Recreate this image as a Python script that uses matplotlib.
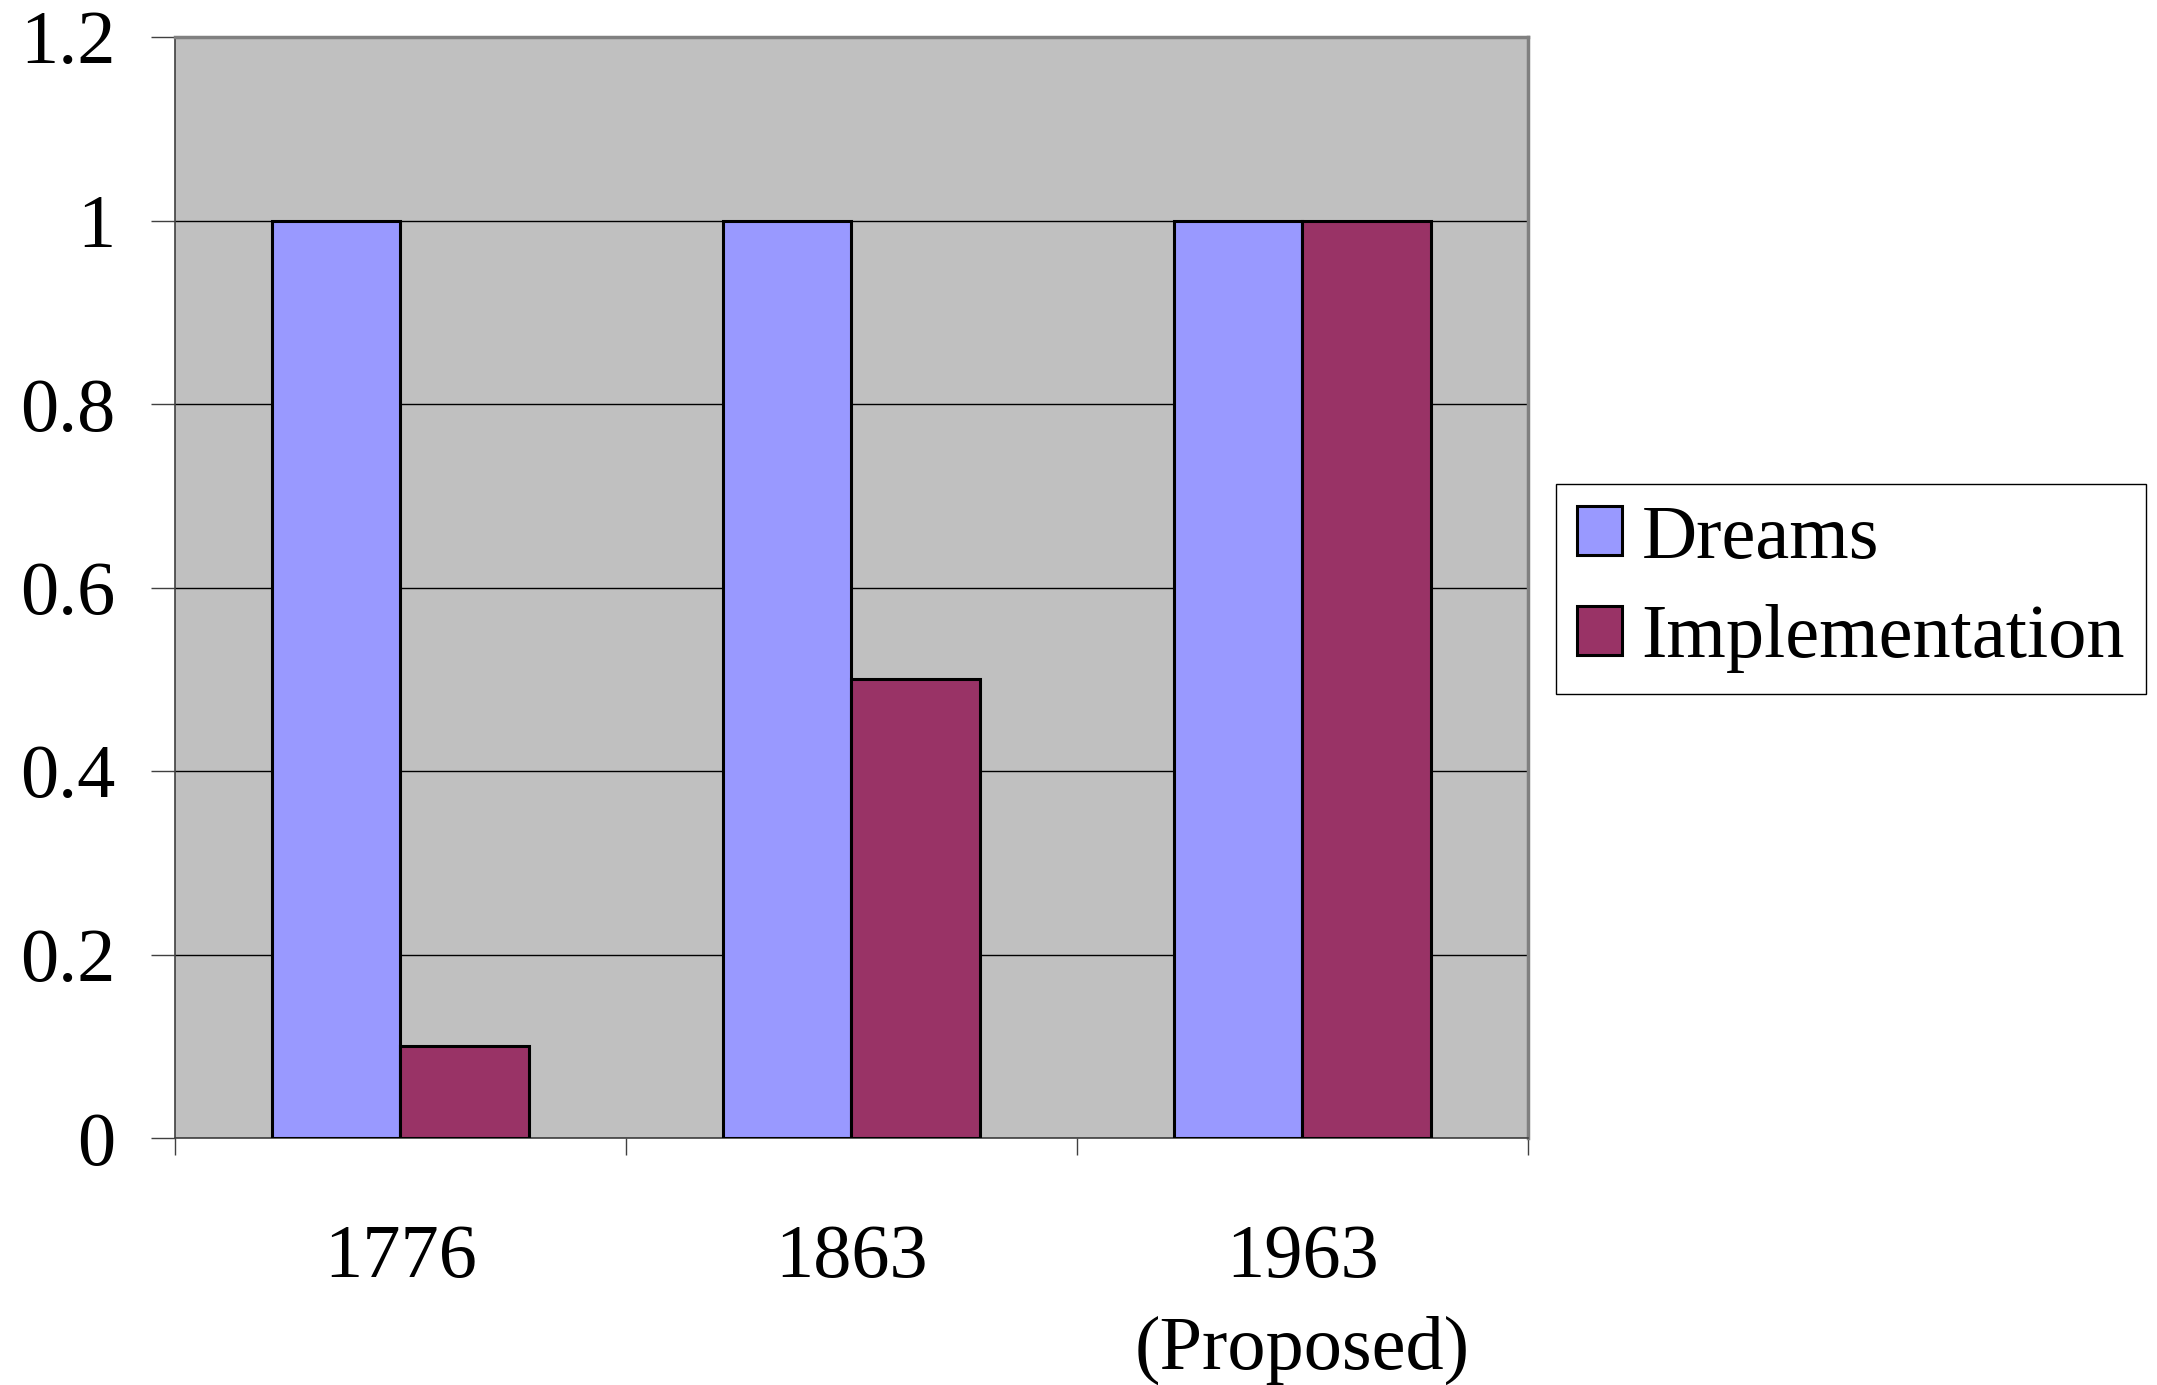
import numpy as np
import matplotlib
matplotlib.use('Agg')
from matplotlib import pyplot as plt
from matplotlib.ticker import FixedLocator

plt.rcParams['font.family'] = ['Liberation Serif', 'DejaVu Serif']

categories = ['1776', '1863', '1963\n(Proposed)']
dreams = [1.0, 1.0, 1.0]
implementation = [0.1, 0.5, 1.0]
y_ticks = [0, 0.2, 0.4, 0.6, 0.8, 1, 1.2]
y_labels = ['0', '0.2', '0.4', '0.6', '0.8', '1', '1.2']

W, H = 2157, 1385
fig = plt.figure(figsize=(W / 100, H / 100), dpi=100)
ax = fig.add_axes([175 / W, 1 - 1138 / H, (1528 - 175) / W, (1138 - 37) / H])
ax.set_facecolor('#C0C0C0')

x = np.arange(len(categories))
bw = 1 / 3.5
ax.bar(x - bw / 2, dreams, bw, color='#9999FF', edgecolor='black', linewidth=2.2,
       label='Dreams', zorder=3)
ax.bar(x + bw / 2, implementation, bw, color='#993366', edgecolor='black', linewidth=2.2,
       label='Implementation', zorder=3)

ax.set_xlim(-0.5, len(categories) - 0.5)
ax.set_ylim(0, 1.2)

# gridlines
ax.set_yticks(y_ticks)
ax.set_yticklabels(y_labels, fontsize=55)
ax.yaxis.grid(True, color='black', linewidth=1.0, zorder=1)
ax.set_axisbelow(True)
ax.tick_params(axis='y', direction='out', length=17, width=1.0, color='#404040', pad=26)

# category labels in the middle, tick marks on the boundaries
ax.set_xticks(x)
ax.set_xticklabels(categories, fontsize=55, linespacing=1.42)
ax.tick_params(axis='x', which='major', length=0, pad=62)
ax.xaxis.set_minor_locator(FixedLocator(np.arange(len(categories) + 1) - 0.5))
ax.tick_params(axis='x', which='minor', direction='out', length=12, width=1.0, color='#404040')

for side in ['top', 'right']:
    ax.spines[side].set_color('#808080')
    ax.spines[side].set_linewidth(2.5)
ax.spines['left'].set_color('#404040')
ax.spines['left'].set_linewidth(1.2)
ax.spines['bottom'].set_color('#404040')
ax.spines['bottom'].set_linewidth(1.2)

leg = fig.legend(loc='upper left', bbox_to_anchor=(1556 / W, 1 - 484 / H),
                 fontsize=55, frameon=True, fancybox=False, framealpha=1,
                 edgecolor='black', handlelength=0.6, handleheight=0.6,
                 handletextpad=0.25, labelspacing=0.4, borderpad=0.27,
                 borderaxespad=0)
leg.get_frame().set_linewidth(1.0)

fig.savefig('out.png', dpi=100)
